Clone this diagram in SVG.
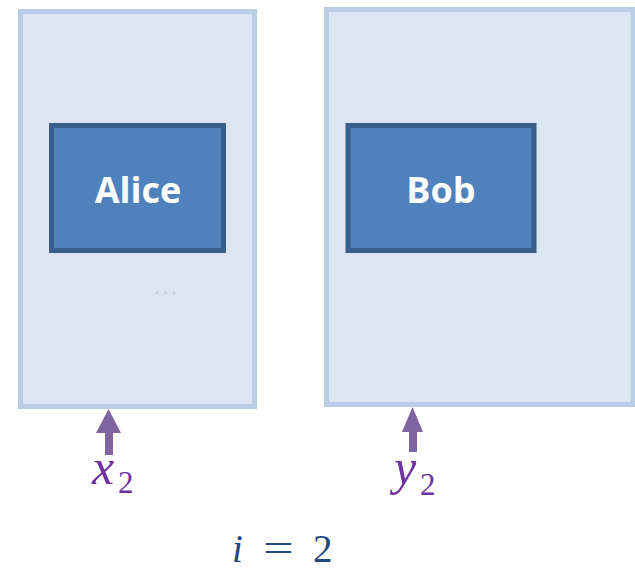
<svg xmlns="http://www.w3.org/2000/svg" width="635" height="569" viewBox="0 0 635 569">
  <style>
    .panel { fill: #dce6f2; stroke: #b9cde5; stroke-width: 5; }
    .party { fill: #4f81bd; stroke: #385d8a; stroke-width: 5; }
    .party-label { font-family: "Open Sans", "Liberation Sans", sans-serif; font-weight: bold; font-size: 36px; fill: #ffffff; text-anchor: middle; }
    .input-arrow { fill: #8064a2; }
    .math { font-family: "Liberation Serif", "DejaVu Serif", serif; }
    .var { font-style: italic; font-size: 50px; fill: #7030a0; }
    .sub { font-size: 31px; fill: #7030a0; }
    .index { font-size: 39px; fill: #1f497d; }
  </style>

  <!-- Alice's panel -->
  <g id="alice-panel">
    <rect class="panel" x="20.5" y="11.5" width="234" height="395"/>
    <text x="167" y="294" font-family="Liberation Sans, sans-serif" font-size="20" letter-spacing="3" fill="#cdcccb" text-anchor="middle">...</text>
  </g>
  <g id="alice">
    <rect class="party" x="51.5" y="125.5" width="172" height="125"/>
    <text class="party-label" x="138" y="203">Alice</text>
  </g>

  <!-- Bob's panel -->
  <g id="bob-panel">
    <rect class="panel" x="326.5" y="9.5" width="306.5" height="395"/>
  </g>
  <g id="bob">
    <rect class="party" x="348" y="125.5" width="186" height="125"/>
    <text class="party-label" x="441" y="203">Bob</text>
  </g>

  <!-- inputs fed into each panel -->
  <g id="connectors">
    <path class="input-arrow" d="M108.5 409 L121 433 L113 433 L113 455 L105 455 L105 433 L96 433 Z"/>
    <path class="input-arrow" d="M412.5 407 L423 432 L417 432 L417 452 L409 452 L409 432 L402 432 Z"/>
  </g>

  <g id="input-x" class="math">
    <text class="var" x="92" y="484">x</text>
    <text class="sub" x="118" y="493">2</text>
  </g>
  <g id="input-y" class="math">
    <text class="var" x="394" y="484">y</text>
    <text class="sub" x="420" y="495">2</text>
  </g>

  <g id="round-index" class="math">
    <text class="index" x="232" y="562" font-style="italic">i</text>
    <text class="index" x="263" y="562" transform="translate(263 0) scale(1.4 1) translate(-263 0)">=</text>
    <text class="index" x="313" y="562">2</text>
  </g>
</svg>
